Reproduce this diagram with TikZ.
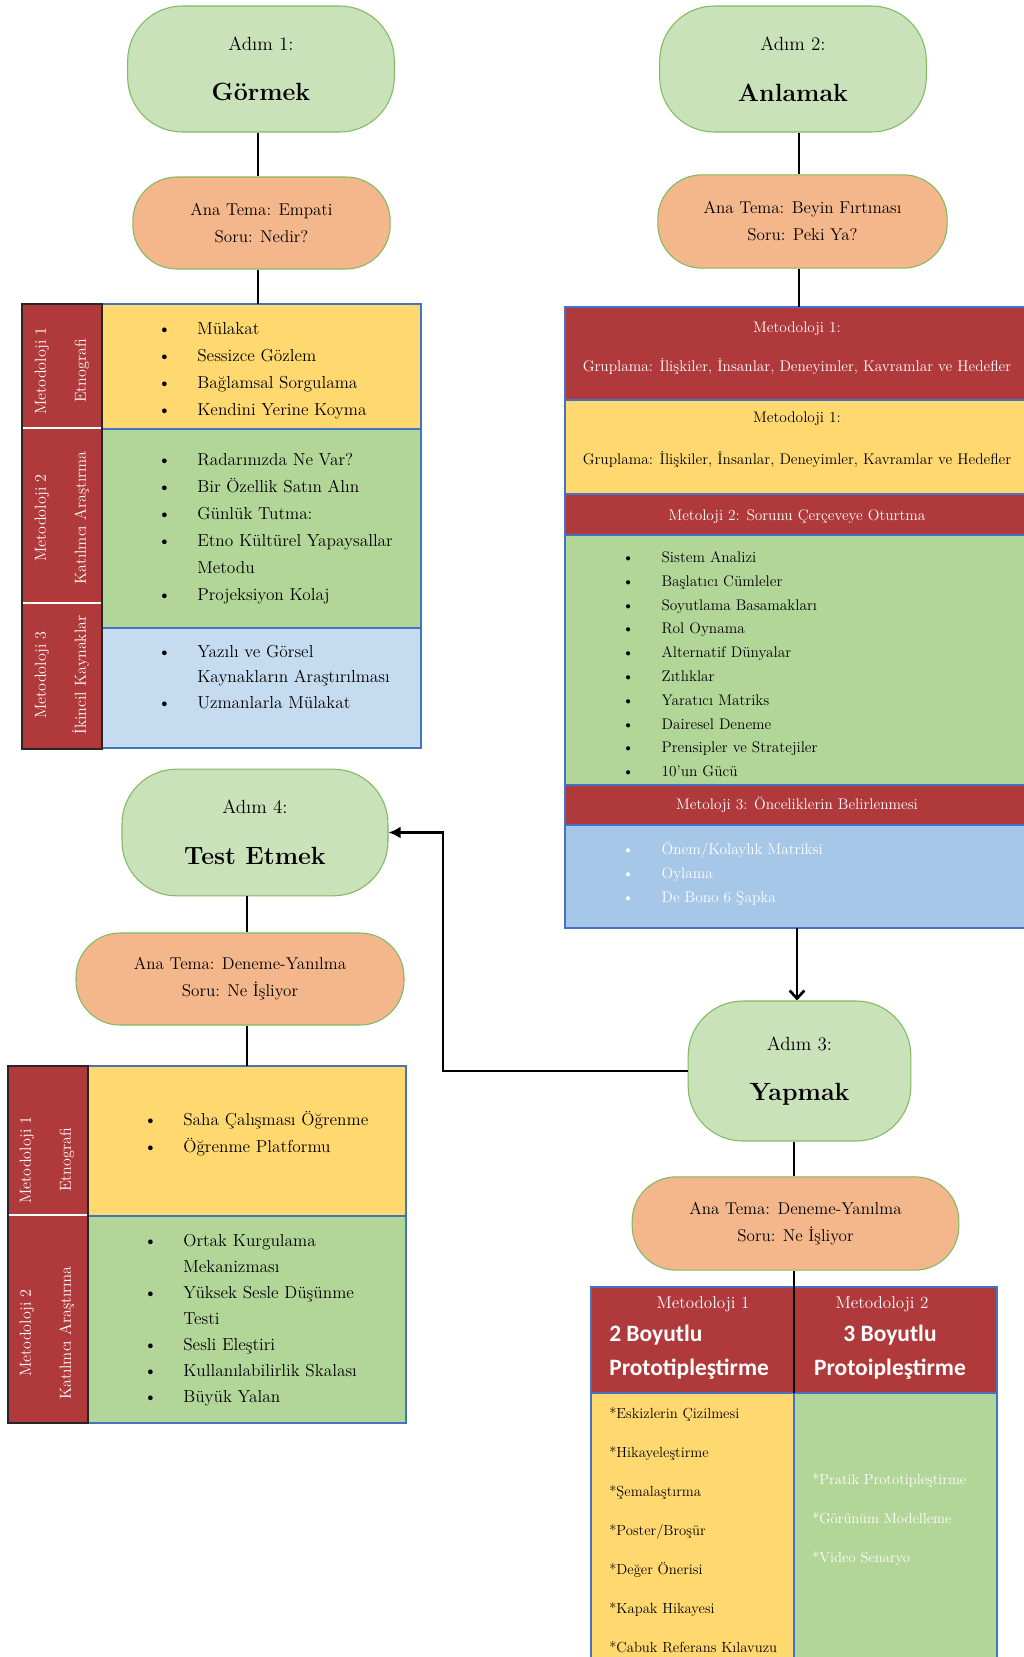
\documentclass[tikz,border=0pt]{standalone}
\usepackage{fontspec}
\newfontfamily\boldsans{Carlito}
\usetikzlibrary{arrows.meta}
\newcommand{\fsz}[2]{\fontsize{#1}{#2}\selectfont}
\newcommand{\listbul}{\makebox[29.5pt][l]{\textbullet}}
\newcommand{\listind}{\hspace*{29.5pt}}

\definecolor{stepfill}{RGB}{201,226,185}
\definecolor{stepline}{RGB}{130,186,98}
\definecolor{themefill}{RGB}{244,182,139}
\definecolor{metred}{RGB}{176,57,59}
\definecolor{metyellow}{RGB}{255,217,111}
\definecolor{metgreen}{RGB}{178,213,152}
\definecolor{metblue}{RGB}{197,220,240}
\definecolor{metbluedark}{RGB}{167,199,232}
\definecolor{cellline}{RGB}{68,114,196}

\tikzset{
  stepnode/.style={draw=stepline, fill=stepfill, line width=0.8pt, rounded corners=41pt, align=center, inner sep=0pt, font=\fsz{14.3}{17}},
  themenode/.style={draw=stepline, fill=themefill, line width=0.8pt, rounded corners=33pt, align=center, inner sep=0pt, font=\fsz{12.8}{20.25}},
  cell/.style={draw=cellline, line width=1.5pt, anchor=north west, inner sep=0pt, outer sep=0pt},
  redcol/.style={fill=metred, draw=white, line width=0.8pt, anchor=north west, inner sep=0pt, outer sep=0pt, minimum width=60pt},
  sidelabel/.style={rotate=90, align=center, text=white, font=\fsz{12}{30}},
  itemlist/.style={anchor=north west, align=left, inner sep=0pt, font=\fsz{13}{20.25}},
  smalllist/.style={anchor=north west, align=left, inner sep=0pt, font=\fsz{11.5}{17.85}},
  link/.style={line width=2pt},
}

\begin{document}
\begin{tikzpicture}[x=0.75pt,y=-0.75pt]
\useasboundingbox (0,0) rectangle (1024,1657);
\clip (0,0) rectangle (1024,1657);

% steps and themes
\node[stepnode, minimum width=200pt, minimum height=94.5pt] (step1) at (261,69) {Adım 1:\\[21pt]{\fsz{18.7}{22}\bfseries Görmek}};
\node[themenode, minimum width=193pt, minimum height=69pt] (theme1) at (261.5,223) {Ana Tema: Empati\\Soru: Nedir?};
\node[stepnode, minimum width=200pt, minimum height=94.5pt] (step2) at (793,69) {Adım 2:\\[21pt]{\fsz{18.7}{22}\bfseries Anlamak}};
\node[themenode, minimum width=217pt, minimum height=70pt] (theme2) at (802.5,221.5) {Ana Tema: Beyin Fırtınası\\Soru: Peki Ya?};
\node[stepnode, minimum width=167pt, minimum height=105pt] (step3) at (799.5,1071) {Adım 3:\\[21pt]{\fsz{18.7}{22}\bfseries Yapmak}};
\node[themenode, minimum width=245pt, minimum height=70pt] (theme3) at (795.5,1223.5) {Ana Tema: Deneme-Yanılma\\Soru: Ne İşliyor};
\node[stepnode, minimum width=199.5pt, minimum height=95pt] (step4) at (255,832.5) {Adım 4:\\[21pt]{\fsz{18.7}{22}\bfseries Test Etmek}};
\node[themenode, minimum width=246pt, minimum height=69pt] (theme4) at (240,979) {Ana Tema: Deneme-Yanılma\\Soru: Ne İşliyor};

\coordinate (axis1) at (258,0);
\coordinate (axis2) at (799,0);
\coordinate (axis3) at (794,0);
\coordinate (axis4) at (247,0);

% step 1 table
\node[cell, fill=metyellow, minimum width=239.25pt, minimum height=93.75pt] (c11) at (102,304) {};
\node[cell, fill=metgreen, minimum width=239.25pt, minimum height=149.25pt] (c12) at (102,429) {};
\node[cell, fill=metblue, minimum width=239.25pt, minimum height=90pt] (c13) at (102,628) {};
\node[redcol, minimum height=93pt] (m11) at (22,304) {};
\node[redcol, minimum height=131.25pt] (m12) at (22,428) {};
\node[redcol, minimum height=109.5pt] (m13) at (22,603) {};
\draw[black!85, line width=1.2pt] (m11.north west) rectangle (m13.south east);
\node[sidelabel] (lab11) at (62,371) {Metodoloji 1\\Etnografi};
\node[sidelabel] (lab12) at (62,518) {Metodoloji 2\\Katılmcı Araştırma};
\node[sidelabel] (lab13) at (62,675) {Metodoloji 3\\İkincil Kaynaklar};
\node[itemlist] (list11) at (157.7,315) {\strut\listbul Mülakat\\\listbul Sessizce Gözlem\\\listbul Bağlamsal Sorgulama\\\listbul Kendini Yerine Koyma};
\node[itemlist] (list12) at (157.7,446) {\strut\listbul Radarınızda Ne Var?\\\listbul Bir Özellik Satın Alın\\\listbul Günlük Tutma:\\\listbul Etno Kültürel Yapaysallar\\\listind Metodu\\\listbul Projeksiyon Kolaj};
\node[itemlist, font=\fsz{13}{19.25}] (list13) at (157.7,639) {\strut\listbul Yazılı ve Görsel\\\listind Kaynakların Araştırılması\\\listbul Uzmanlarla Mülakat};

% step 2 table
\node[cell, fill=metred, minimum width=348pt, minimum height=69.75pt] (r1) at (565,307) {};
\node[cell, fill=metyellow, minimum width=348pt, minimum height=70.5pt] (r2) at (565,400) {};
\node[cell, fill=metred, minimum width=348pt, minimum height=30.75pt] (r3) at (565,494) {};
\node[cell, fill=metgreen, minimum width=348pt, minimum height=187.5pt] (r4) at (565,535) {};
\node[cell, fill=metred, minimum width=348pt, minimum height=30pt] (r5) at (565,785) {};
\node[cell, fill=metbluedark, minimum width=348pt, minimum height=77.25pt] (r6) at (565,825) {};
\node[anchor=north, align=center, inner sep=0pt, text=white, font=\fsz{11.5}{29.25}] (r1text) at (797,305) {\strut Metodoloji 1:\\Gruplama: İlişkiler, İnsanlar, Deneyimler, Kavramlar ve Hedefler};
\node[anchor=north, align=center, inner sep=0pt, font=\fsz{11.5}{31.5}] (r2text) at (797,392.8) {\strut Metodoloji 1:\\Gruplama: İlişkiler, İnsanlar, Deneyimler, Kavramlar ve Hedefler};
\node[anchor=base, inner sep=0pt, text=white, font=\fsz{11.5}{14}] (r3text) at (797,520) {Metoloji 2: Sorunu Çerçeveye Oturtma};
\node[anchor=base, inner sep=0pt, text=white, font=\fsz{11.5}{14}] (r5text) at (797,809) {Metoloji 3: Önceliklerin Belirlenmesi};
\node[smalllist] (list24) at (622,545.5) {\strut\listbul Sistem Analizi\\\listbul Başlatıcı Cümleler\\\listbul Soyutlama Basamakları\\\listbul Rol Oynama\\\listbul Alternatif Dünyalar\\\listbul Zıtlıklar\\\listbul Yaratıcı Matriks\\\listbul Dairesel Deneme\\\listbul Prensipler ve Stratejiler\\\listbul 10’un Gücü};
\node[smalllist, text=white] (list26) at (622,837.5) {\strut\listbul Önem/Kolaylık Matriksi\\\listbul Oylama\\\listbul De Bono 6 Şapka};

% step 3 table
\node[cell, fill=metyellow, minimum width=152.25pt, minimum height=210pt] (b31) at (591,1393) {};
\node[cell, fill=metgreen, minimum width=152.25pt, minimum height=210pt] (b32) at (794,1393) {};
\node[cell, fill=metred, minimum width=152.25pt, minimum height=79.5pt] (h31) at (591,1287) {};
\node[cell, fill=metred, minimum width=152.25pt, minimum height=79.5pt] (h32) at (794,1287) {};
\node[anchor=base, inner sep=0pt, text=white, font=\fsz{12.8}{15}] (h31top) at (703,1308) {Metodoloji 1};
\node[anchor=base, inner sep=0pt, text=white, font=\fsz{12.8}{15}] (h32top) at (882,1308) {Metodoloji 2};
\node[anchor=north west, align=left, inner sep=0pt, text=white, font=\boldsans\bfseries\fsz{17.6}{25.5}] (h31name) at (609,1317.7) {\strut 2 Boyutlu\\Prototipleştirme};
\node[anchor=north, align=center, inner sep=0pt, text=white, font=\boldsans\bfseries\fsz{17.6}{25.5}] (h32name) at (890,1317.7) {\strut 3 Boyutlu\\Protoipleştirme};
\node[anchor=north west, align=left, inner sep=0pt, font=\fsz{11}{29.25}] (list31) at (609,1390.7) {\strut *Eskizlerin Çizilmesi\\*Hikayeleştirme\\*Şemalaştırma\\*Poster/Broşür\\*Değer Önerisi\\*Kapak Hikayesi\\*Cabuk Referans Kılavuzu};
\node[anchor=north west, align=left, inner sep=0pt, text=white, font=\fsz{11}{29.25}] (list32) at (812,1456.7) {\strut *Pratik Prototipleştirme\\*Görünüm Modelleme\\*Video Senaryo};

% step 4 table
\node[cell, fill=metyellow, minimum width=238.5pt, minimum height=112.5pt] (d11) at (88,1066) {};
\node[cell, fill=metgreen, minimum width=238.5pt, minimum height=155.25pt] (d12) at (88,1216) {};
\node[redcol, minimum height=111.75pt] (n11) at (8,1066) {};
\node[redcol, minimum height=156pt] (n12) at (8,1215) {};
\draw[black!85, line width=1.2pt] (n11.north west) rectangle (n12.south east);
\node[sidelabel] (lab41) at (47,1160) {Metodoloji 1\\Etnografi};
\node[sidelabel] (lab42) at (47,1333) {Metodoloji 2\\Katılmcı Araştırma};
\node[itemlist] (list41) at (143.7,1106) {\strut\listbul Saha Çalışması Öğrenme\\\listbul Öğrenme Platformu};
\node[itemlist, font=\fsz{13}{19.5}] (list42) at (143.7,1227.7) {\strut\listbul Ortak Kurgulama\\\listind Mekanizması\\\listbul Yüksek Sesle Düşünme\\\listind Testi\\\listbul Sesli Eleştiri\\\listbul Kullanılabilirlik Skalası\\\listbul Büyük Yalan};

% connectors
\draw[link] (step1.south -| axis1) -- (theme1.north -| axis1);
\draw[link] (theme1.south -| axis1) -- (axis1 |- c11.north);
\draw[link] (step2.south -| axis2) -- (theme2.north -| axis2);
\draw[link] (theme2.south -| axis2) -- (axis2 |- r1.north);
\draw[link, -{Straight Barb[length=6pt,width=11pt]}] (r6.south) -- (r6.south |- step3.north);
\draw[link] (step3.south -| axis3) -- (theme3.north -| axis3);
\draw[link] (theme3.south -| axis3) -- (axis3 |- h31.south);
\coordinate (turn) at (443,1071);
\draw[link, -{Latex[length=9pt,width=9pt]}] (step3.west) -- (turn) |- (step4.east);
\draw[link] (step4.south -| axis4) -- (theme4.north -| axis4);
\draw[link] (theme4.south -| axis4) -- (axis4 |- d11.north);
\end{tikzpicture}
\end{document}
